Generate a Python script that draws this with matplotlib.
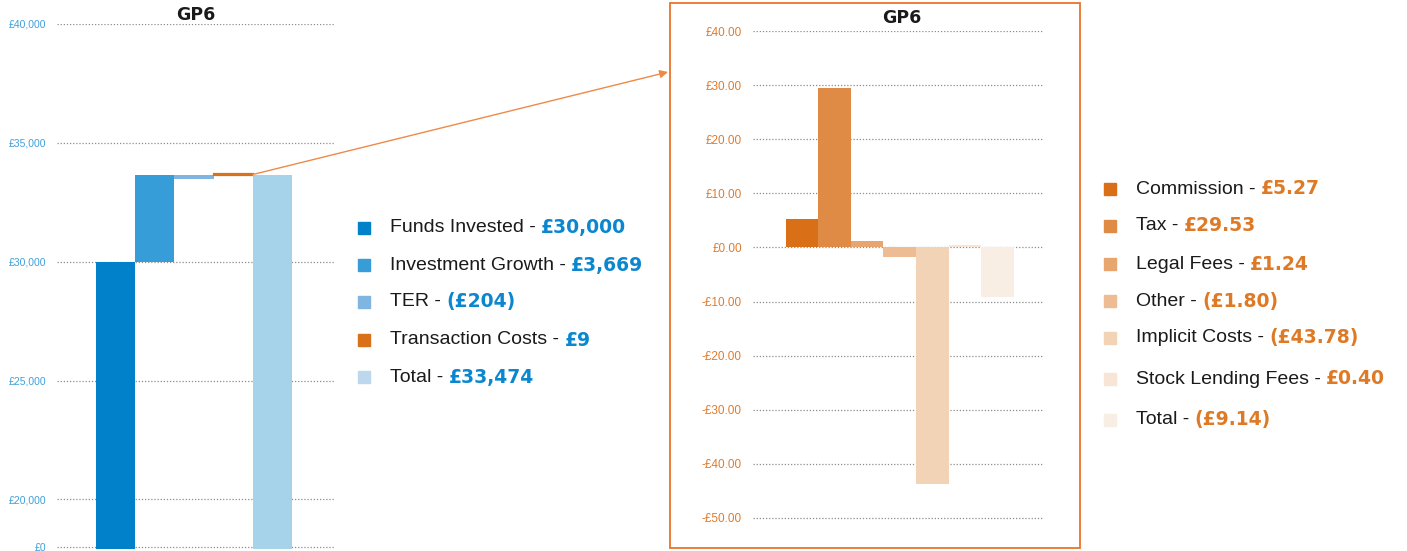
import matplotlib
matplotlib.use("Agg")
import matplotlib.pyplot as plt
from matplotlib.patches import Rectangle

# left chart data (waterfall)
cost_names = ["Funds Invested", "Investment Growth", "TER", "Transaction Costs", "Total"]
cost_labels = ["£30,000", "£3,669", "(£204)", "£9", "£33,474"]
# bar heights as drawn in the picture (TER hangs from the growth top, total sits level with it)
cost_values = [30000, 3669, -204, 9, 33669]
cost_colors = ["#0081CA", "#379DD8", "#7FB5E0", "#D9701A", "#A7D3EA"]
cost_legend_colors = ["#0081CA", "#379DD8", "#7FB5E0", "#D9701A", "#BDD7EE"]
left_ticks = [18000, 20000, 25000, 30000, 35000, 40000]
left_tick_labels = ["£0", "£20,000", "£25,000", "£30,000", "£35,000", "£40,000"]

# right chart data (transaction cost breakdown)
tc_names = ["Commission", "Tax", "Legal Fees", "Other", "Implicit Costs", "Stock Lending Fees", "Total"]
tc_values = [5.27, 29.53, 1.24, -1.80, -43.78, 0.40, -9.14]
tc_labels = ["£5.27", "£29.53", "£1.24", "(£1.80)", "(£43.78)", "£0.40", "(£9.14)"]
tc_colors = ["#D97018", "#DF8B45", "#E8A56E", "#EEBC93", "#F2D3B5", "#F8E5D5", "#F9EEE4"]
right_ticks = [40, 30, 20, 10, 0, -10, -20, -30, -40, -50]

W, H = 1407, 551
plt.rcParams["font.family"] = ["Liberation Sans", "DejaVu Sans"]
fig = plt.figure(figsize=(W / 100, H / 100), dpi=100)


def px_axes(x0, y0, x1, y1):
    return fig.add_axes([x0 / W, 1 - y1 / H, (x1 - x0) / W, (y1 - y0) / H])


def style(ax, color, size):
    for s in ax.spines.values():
        s.set_visible(False)
    ax.tick_params(length=0, labelsize=size, labelcolor=color, pad=8)
    ax.set_xticks([])
    ax.yaxis.grid(True, linestyle=(0, (1, 1.5)), color="#8c8c8c", linewidth=0.9)
    ax.set_axisbelow(True)
    ax.set_facecolor("none")


# ---- left waterfall
# pixel 24 -> 40000, 547 -> 18000 ; extend a bit below so the bottom gridline shows
ax1 = px_axes(57, 24, 335, 549)
bottoms = []
top = 0
for i, v in enumerate(cost_values):
    if i == 0 or i == len(cost_values) - 1:
        bottoms.append(0)
        top = v
    elif v >= 0:
        bottoms.append(top)
        top += v
    else:
        bottoms.append(top + v)
    if i == 1:
        growth_top = top
heights = [abs(v) for v in cost_values]
# transaction costs sit on the growth top in the picture
bottoms[3] = growth_top
for i in range(len(cost_values)):
    lw = 1.6 if heights[i] < 50 else 0
    ax1.bar(i, heights[i], bottom=bottoms[i], width=1.0, color=cost_colors[i],
            edgecolor=cost_colors[i], linewidth=lw, zorder=3)
ax1.set_xlim(-1.5, 5.6)
ax1.set_ylim(18000 - 2000 * 2 / 47.6, 40000)
ax1.set_yticks(left_ticks)
ax1.set_yticklabels(left_tick_labels)
style(ax1, "#3FA0DA", 7.5)
fig.text(196 / W, 1 - 15 / H, "GP6", ha="center", va="center", fontsize=12.5,
         fontweight="bold", family=["DejaVu Sans"], color="#1a1a1a")

# ---- right bars
# pixel 31 -> 40, 518 -> -50 ; extend a bit below
ax2 = px_axes(753, 31, 1044, 521)
ax2.bar(range(len(tc_values)), tc_values, width=1.0, color=tc_colors, zorder=3)
ax2.set_xlim(-1.5, 7.42)
ax2.set_ylim(-50 - 3 * 90 / 487, 40)
ax2.set_yticks(right_ticks)
ax2.set_yticklabels([("-£%.2f" % -t) if t < 0 else ("£%.2f" % t) for t in right_ticks])
style(ax2, "#E07B2C", 8.5)
fig.text(902 / W, 1 - 18 / H, "GP6", ha="center", va="center", fontsize=12.5,
         fontweight="bold", family=["DejaVu Sans"], color="#1a1a1a")

# orange frame around right chart
fig.patches.append(Rectangle((670 / W, 1 - 548 / H), (1080 - 670) / W, (548 - 3) / H,
                             transform=fig.transFigure, fill=False,
                             edgecolor="#E8742A", linewidth=1.3))

# connector arrow
ax1.annotate("", xy=(668 / W, 1 - 72 / H), xycoords="figure fraction",
             xytext=(3.5, growth_top), textcoords="data",
             arrowprops=dict(arrowstyle="-|>", color="#EE8A48", lw=1.0,
                             shrinkA=0, shrinkB=0, mutation_scale=12),
             annotation_clip=False)

# legends
renderer = fig.canvas.get_renderer()


def legend(x_sq, x_txt, ys, names, labels, colors, val_color):
    for name, lab, c, y in zip(names, labels, colors, ys):
        yf = 1 - y / H
        fig.patches.append(Rectangle((x_sq / W, yf - 6 / H), 12 / W, 12 / H,
                                     transform=fig.transFigure, color=c))
        t = fig.text(x_txt / W, yf, name + " - ", ha="left", va="center",
                     fontsize=14, color="#1a1a1a")
        bb = t.get_window_extent(renderer)
        fig.text(bb.x1 / W, yf, lab, ha="left", va="center", fontsize=13.5,
                 fontweight="bold", family=["DejaVu Sans"], color=val_color)


legend(358, 390, [228, 265, 302, 340, 377], cost_names, cost_labels,
       cost_legend_colors, "#0B87CF")
legend(1104, 1136, [189, 226, 264, 301, 338, 379, 420], tc_names, tc_labels,
       tc_colors, "#DE7A26")

fig.savefig("out.png", dpi=100)
